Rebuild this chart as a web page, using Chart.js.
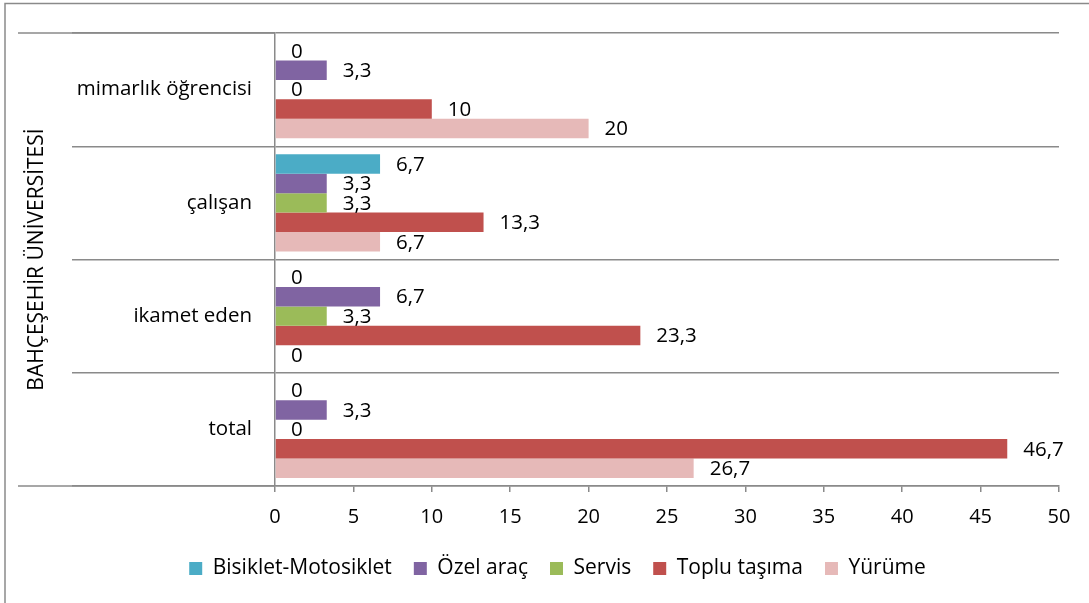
<!DOCTYPE html>
<html>
<head>
<meta charset="utf-8">
<script src="https://cdn.jsdelivr.net/npm/chart.js@4"></script>
<style>
  html, body { margin: 0; padding: 0; background: #fff; }
  #wrap { width: 1089px; height: 603px; }
</style>
</head>
<body>
<div id="wrap"><canvas id="chart"></canvas></div>
<script>
// data
const groupTitle = 'BAHÇEŞEHİR ÜNİVERSİTESİ';
const categories = ['mimarlık öğrencisi', 'çalışan', 'ikamet eden', 'total'];
const bisiklet = [0, 6.7, 0, 0];
const ozelArac = [3.3, 3.3, 6.7, 3.3];
const servis = [0, 3.3, 3.3, 0];
const topluTasima = [10, 13.3, 23.3, 46.7];
const yurume = [20, 6.7, 0, 26.7];
const xTicks = [0, 5, 10, 15, 20, 25, 30, 35, 40, 45, 50];

const FONT = 'Open Sans';
const GRID = '#8a8a8a';

function ds(label, data, color) {
  return { label: label, data: data, backgroundColor: color, borderWidth: 0 };
}

// value labels "3,3" next to every bar
const valueLabels = {
  id: 'valueLabels',
  afterDatasetsDraw(chart) {
    const ctx = chart.ctx;
    ctx.save();
    ctx.font = '20.5px "' + FONT + '"';
    ctx.fillStyle = '#000';
    ctx.textAlign = 'left';
    ctx.textBaseline = 'middle';
    chart.data.datasets.forEach((d, i) => {
      chart.getDatasetMeta(i).data.forEach((bar, j) => {
        const txt = String(d.data[j]).replace('.', ',');
        ctx.fillText(txt, bar.x + 16, bar.y + 1);
      });
    });
    ctx.restore();
  }
};

// outer frame + the longer group lines of the two-level axis
const decor = {
  id: 'decor',
  afterDraw(chart) {
    const ctx = chart.ctx;
    const a = chart.chartArea;
    ctx.save();
    ctx.strokeStyle = GRID;
    ctx.lineWidth = 1.5;
    ctx.beginPath();
    ctx.moveTo(18, a.top); ctx.lineTo(a.left, a.top);
    ctx.moveTo(18, a.bottom); ctx.lineTo(a.left, a.bottom);
    ctx.moveTo(5, 603); ctx.lineTo(5, 3.5); ctx.lineTo(1089, 3.5);
    ctx.stroke();
    ctx.restore();
  }
};

new Chart(document.getElementById('chart'), {
  type: 'bar',
  data: {
    labels: categories,
    datasets: [
      ds('Bisiklet-Motosiklet', bisiklet, '#4BACC6'),
      ds('Özel araç', ozelArac, '#8064A2'),
      ds('Servis', servis, '#9BBB59'),
      ds('Toplu taşıma', topluTasima, '#C0504D'),
      ds('Yürüme', yurume, '#E6B9B8')
    ]
  },
  options: {
    indexAxis: 'y',
    responsive: true,
    maintainAspectRatio: false,
    animation: false,
    datasets: { bar: { categoryPercentage: 0.86, barPercentage: 1.0 } },
    layout: { padding: { left: 56, top: 33, right: 30, bottom: 14 } },
    scales: {
      x: {
        min: 0,
        max: 50,
        afterBuildTicks(scale) { scale.ticks = xTicks.map(v => ({ value: v })); },
        afterFit(scale) { scale.height = 50; },
        grid: { drawOnChartArea: false, drawTicks: true, tickLength: 6, color: GRID, lineWidth: 1.5 },
        border: { color: GRID, width: 1.5 },
        ticks: { font: { family: FONT, size: 20 }, color: '#000', padding: 13 }
      },
      y: {
        afterFit(scale) { scale.width = 219; },
        grid: { offset: true, color: GRID, lineWidth: 1.5, tickLength: 203 },
        border: { color: GRID, width: 1.5 },
        ticks: { font: { family: FONT, size: 20.5 }, color: '#000', padding: -180 },
        title: {
          display: true,
          text: groupTitle,
          font: { family: FONT, size: 21 },
          color: '#000',
          padding: { top: -32, bottom: 0 }
        }
      }
    },
    plugins: {
      legend: {
        position: 'bottom',
        labels: {
          font: { family: FONT, size: 21 },
          color: '#000',
          boxWidth: 13,
          boxHeight: 13,
          padding: 22
        }
      },
      tooltip: { enabled: false }
    }
  },
  plugins: [valueLabels, decor]
});
</script>
</body>
</html>
